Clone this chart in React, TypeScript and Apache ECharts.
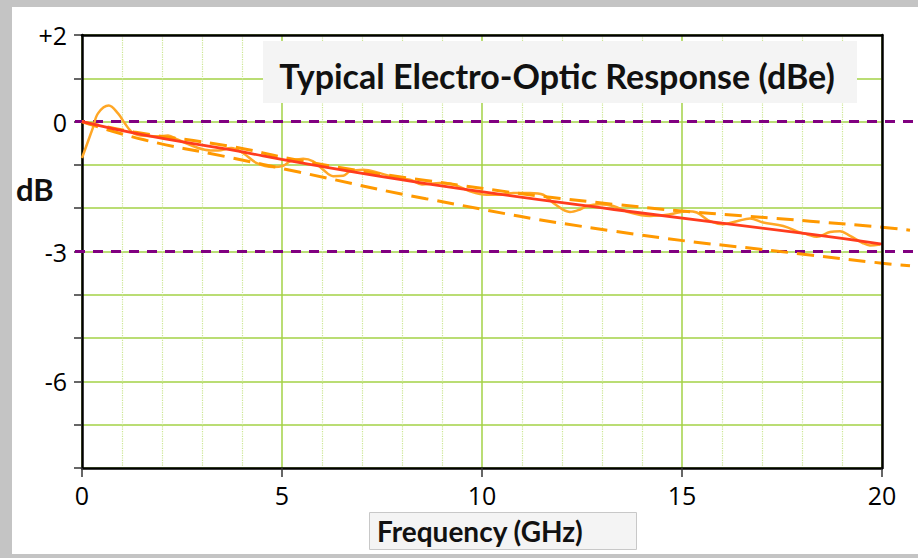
import React, { useEffect, useRef } from "react";
import * as echarts from "echarts";

// X axis (GHz) and Y axis (dB) tick settings
const xTickValues = [0, 5, 10, 15, 20];
const yTickLabels: Record<string, string> = { "2": "+2", "0": "0", "-3": "-3", "-6": "-6" };
const yRefLines = [0, -3];

// Measured electro-optic response (wavy orange curve)
const measuredFreq = [
  0, 0.27, 0.4, 0.67, 0.9, 1.07, 1.23, 1.4, 1.65, 1.9, 2.15, 2.4, 3.07, 3.4, 3.73, 4.03, 4.37,
  4.78, 5.03, 5.2, 5.53, 5.78, 6.03, 6.28, 6.53, 6.7, 7.03, 7.45, 7.87, 8.2, 8.5, 8.95, 9.28,
  9.7, 10.12, 10.45, 10.78, 11.2, 11.53, 11.78, 12.2, 12.45, 12.62, 12.95, 13.28, 13.7, 14.2,
  14.7, 15.12, 15.37, 15.7, 16.03, 16.37, 16.7, 17.03, 17.53, 17.95, 18.12, 18.37, 18.7, 18.95,
  19.2, 19.53, 19.7, 19.95,
];
const measuredDb = [
  -0.84, -0.15, 0.19, 0.37, 0.19, -0.04, -0.23, -0.31, -0.33, -0.34, -0.32, -0.42, -0.65, -0.67,
  -0.61, -0.73, -0.96, -1.05, -1.02, -0.92, -0.86, -0.92, -1.11, -1.26, -1.25, -1.15, -1.11,
  -1.19, -1.3, -1.34, -1.45, -1.42, -1.45, -1.61, -1.69, -1.69, -1.65, -1.65, -1.69, -1.88,
  -2.09, -2.03, -1.95, -1.91, -1.95, -2.1, -2.18, -2.14, -2.07, -2.1, -2.3, -2.37, -2.3, -2.24,
  -2.33, -2.41, -2.56, -2.6, -2.66, -2.55, -2.53, -2.64, -2.81, -2.86, -2.84,
];

// Fitted response (solid red)
const fitFreq = [0, 1.5, 3.7, 5.45, 8.6, 13.3, 18.2, 20];
const fitDb = [0, -0.3, -0.65, -0.95, -1.43, -2.03, -2.6, -2.83];

// Upper / lower limit curves (dashed orange)
const upperFreq = [0, 1.3, 3.7, 5.45, 8.6, 13.3, 18.2, 20, 20.7];
const upperDb = [0, -0.24, -0.57, -0.9, -1.36, -1.91, -2.3, -2.44, -2.51];
const lowerFreq = [0, 1.55, 3.6, 5.45, 8.6, 13.3, 18.2, 20, 20.7];
const lowerDb = [0, -0.42, -0.81, -1.17, -1.78, -2.53, -3.08, -3.27, -3.33];

const refLineStart = -0.175;
const refLineEnd = 20.85;

const zip = (xs: number[], ys: number[]) => xs.map((x, i) => [x, ys[i]]);

const GREEN = "#a3d246";
const LABEL_FONT = "'Open Sans', 'Noto Sans', sans-serif";
const BOLD_FONT = "Lato, 'Open Sans', sans-serif";

export default function App() {
  const ref = useRef<HTMLDivElement>(null);

  useEffect(() => {
    if (!ref.current) return;
    const chart = echarts.init(ref.current, undefined, { renderer: "svg" });

    const frameAxis = {
      show: true,
      axisLine: { show: true, onZero: false, lineStyle: { color: "#000", width: 2.5 } },
      axisTick: { show: false },
      axisLabel: { show: false },
      splitLine: { show: false },
    };

    const option: any = {
      animation: false,
      backgroundColor: "transparent",
      grid: [
        { left: 82, right: 36, top: 35, bottom: 90 },
        { left: 75, right: 2, top: 35, bottom: 90 },
      ],
      xAxis: [
        {
          type: "value",
          gridIndex: 0,
          min: 0,
          max: 20,
          interval: 5,
          z: 1,
          axisLine: { show: true, onZero: false, lineStyle: { color: "#000", width: 2.5 } },
          axisTick: { show: true, length: 9, lineStyle: { color: "#333", width: 1.5 } },
          axisLabel: {
            fontSize: 25,
            color: "#000",
            margin: 14,
            fontFamily: LABEL_FONT,
            formatter: (v: number) => (xTickValues.includes(v) ? String(v) : ""),
          },
          splitLine: { show: true, lineStyle: { color: GREEN, width: 1.5 } },
          minorTick: { show: false, splitNumber: 5 },
          minorSplitLine: { show: true, lineStyle: { color: "#cbe693", width: 1.2, type: "dotted" } },
        },
        { type: "value", gridIndex: 1, min: refLineStart, max: refLineEnd, show: false },
        { type: "value", gridIndex: 0, position: "top", min: 0, max: 20, z: 8, ...frameAxis },
      ],
      yAxis: [
        {
          type: "value",
          gridIndex: 0,
          min: -8,
          max: 2,
          interval: 1,
          z: 1,
          axisLine: { show: true, onZero: false, lineStyle: { color: "#000", width: 2.5 } },
          axisTick: { show: true, length: 8, lineStyle: { color: "#333", width: 1.5 } },
          axisLabel: {
            fontSize: 25,
            color: "#000",
            margin: 15,
            fontFamily: LABEL_FONT,
            formatter: (v: number) => yTickLabels[String(v)] ?? "",
          },
          splitLine: { show: true, lineStyle: { color: GREEN, width: 1.5 } },
        },
        { type: "value", gridIndex: 1, min: -8, max: 2, show: false },
        { type: "value", gridIndex: 0, position: "right", min: -8, max: 2, z: 8, ...frameAxis },
      ],
      series: [
        ...yRefLines.map((y) => ({
          type: "line",
          xAxisIndex: 1,
          yAxisIndex: 1,
          data: [
            [refLineStart, y],
            [refLineEnd, y],
          ],
          symbol: "none",
          silent: true,
          z: 3,
          lineStyle: { color: "#800080", width: 3, type: [10, 8] },
        })),
        {
          type: "line",
          xAxisIndex: 0,
          yAxisIndex: 0,
          data: zip(measuredFreq, measuredDb),
          smooth: 0.35,
          symbol: "none",
          z: 4,
          lineStyle: { color: "#ffa726", width: 2.5 },
        },
        {
          type: "line",
          xAxisIndex: 1,
          yAxisIndex: 1,
          data: zip(upperFreq, upperDb),
          smooth: true,
          symbol: "none",
          z: 5,
          lineStyle: { color: "#ff9900", width: 3, type: [17, 9] },
        },
        {
          type: "line",
          xAxisIndex: 1,
          yAxisIndex: 1,
          data: zip(lowerFreq, lowerDb),
          smooth: true,
          symbol: "none",
          z: 5,
          lineStyle: { color: "#ff9900", width: 3, type: [17, 9] },
        },
        {
          type: "line",
          xAxisIndex: 0,
          yAxisIndex: 0,
          data: zip(fitFreq, fitDb),
          smooth: true,
          symbol: "none",
          z: 6,
          lineStyle: { color: "#ff3c1e", width: 2.8 },
        },
      ],
      graphic: [
        {
          type: "rect",
          z: 100,
          shape: { x: 263, y: 41, width: 594, height: 62 },
          style: { fill: "#f4f4f4" },
        },
        {
          type: "text",
          z: 101,
          x: 557,
          y: 75,
          style: {
            text: "Typical Electro-Optic Response (dBe)",
            font: `bold 34px ${BOLD_FONT}`,
            fill: "#111",
            align: "center",
            verticalAlign: "middle",
          },
        },
        {
          type: "text",
          z: 101,
          x: 16,
          y: 189,
          style: {
            text: "dB",
            font: `bold 31px ${BOLD_FONT}`,
            fill: "#111",
            align: "left",
            verticalAlign: "middle",
          },
        },
        {
          type: "rect",
          z: 100,
          shape: { x: 369.5, y: 512.5, width: 267, height: 37 },
          style: { fill: "#f4f4f4", stroke: "#c8c8c8", lineWidth: 1 },
        },
        {
          type: "text",
          z: 101,
          x: 377,
          y: 531,
          style: {
            text: "Frequency (GHz)",
            font: `bold 28px ${BOLD_FONT}`,
            fill: "#111",
            align: "left",
            verticalAlign: "middle",
          },
        },
      ],
    };

    chart.setOption(option);
    return () => chart.dispose();
  }, []);

  return (
    <div style={{ position: "fixed", left: 0, top: 0, width: 918, height: 558, background: "#c4c4c4" }}>
      <div style={{ position: "absolute", left: 12, top: 7, width: 906, height: 547, background: "#fff" }} />
      <div ref={ref} style={{ position: "absolute", left: 0, top: 0, width: 918, height: 558 }} />
    </div>
  );
}
